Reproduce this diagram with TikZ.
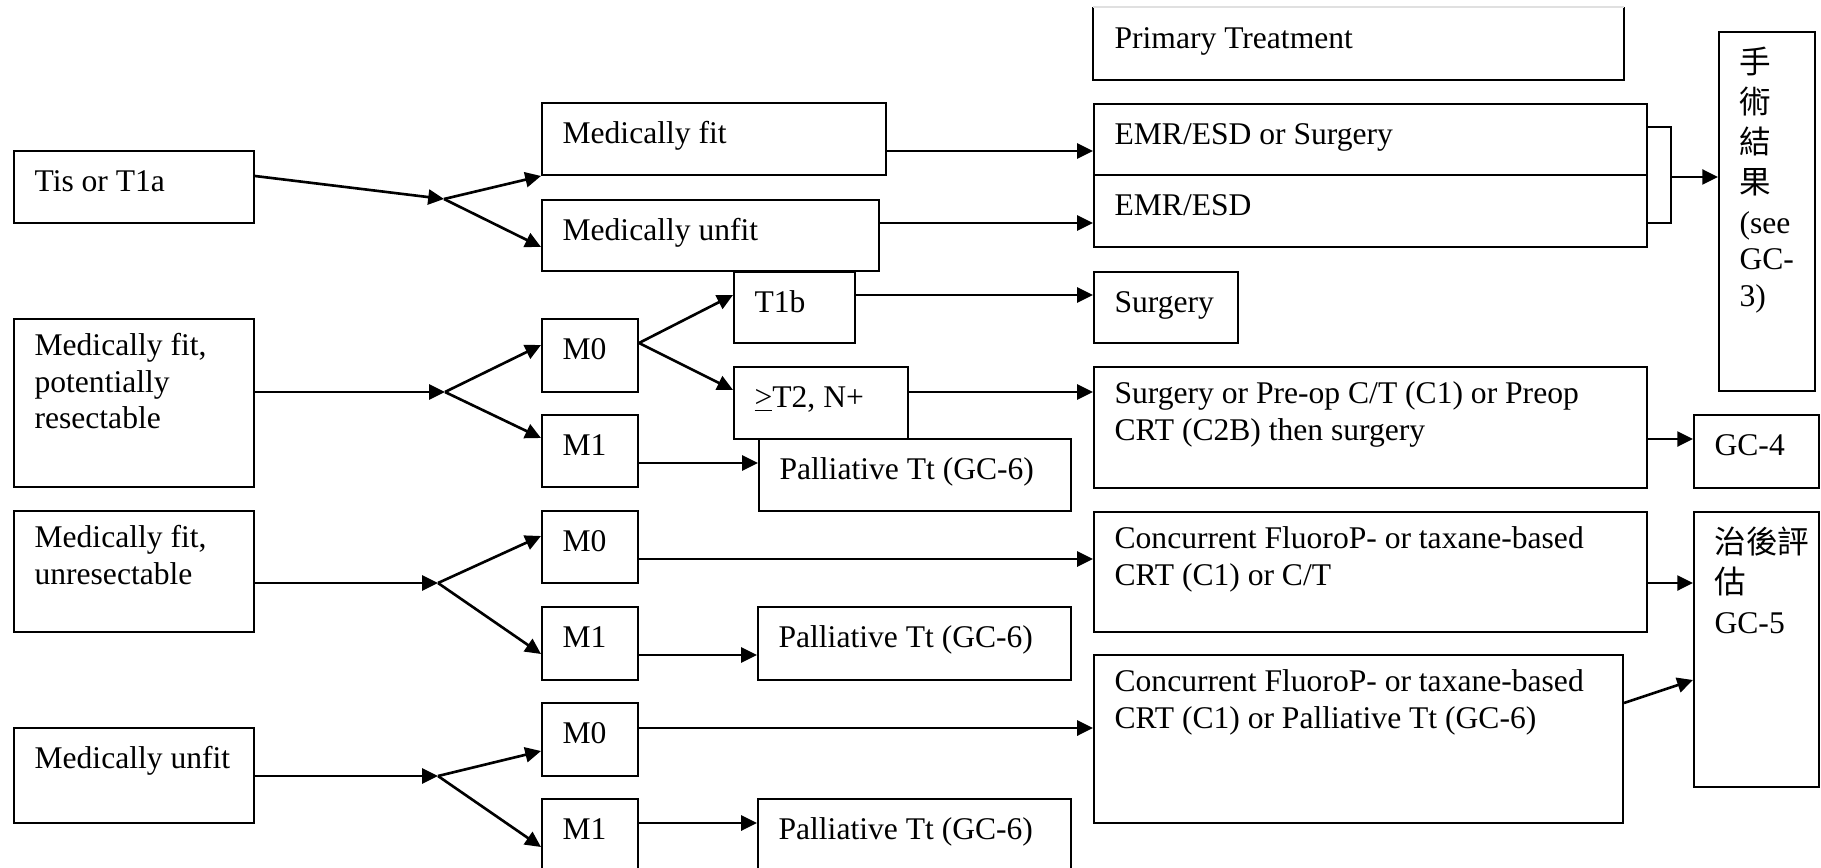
\documentclass[tikz,border=0pt]{standalone}
\usepackage{fontspec}
\setmainfont{Liberation Serif}
\newfontfamily\cjk{Noto Sans CJK TC}
\usetikzlibrary{arrows.meta,fit}

\tikzset{boite/.style  = {draw, line width=0.75pt, inner sep=0pt},
         texte/.style  = {anchor=north west, inner sep=0pt, xshift=8pt, yshift=-5.7pt,
                          align=left, font=\fontsize{12}{13.9}\selectfont,
                          execute at begin node=\strut},
         fleche/.style = {line width=1pt, -{Triangle[length=6pt,width=5.7pt]}},
         trait/.style  = {line width=0.75pt}
        }

\begin{document}
\begin{tikzpicture}[x=0.38pt,y=-0.38pt]
\useasboundingbox (0,0) rectangle (1821,868);
\clip (0,0) rectangle (1821,868);

\node[boite, draw=none, fit={(1094,8) (1623,79)}, label={[texte]north west:Primary Treatment}] (prim) {};
\draw[trait] (prim.north west) -- (prim.south west) -- (prim.south east) -- (prim.north east);
\draw[trait, black!12] (prim.north west) -- (prim.north east);

\node[boite, fit={(14,151) (254,223)}, label={[texte]north west:Tis or T1a}] (tis) {};
\node[boite, fit={(542,103) (886,175)}, label={[texte]north west:Medically fit}] (mfit) {};
\node[boite, fit={(542,200) (879,271)}, label={[texte]north west:Medically unfit}] (munfit) {};
\node[boite, fit={(1094,104) (1647,175)}, label={[texte]north west:EMR/ESD or Surgery}] (emrs) {};
\node[boite, fit={(1094,175) (1647,247)}, label={[texte]north west:EMR/ESD}] (emr) {};
\node[boite, fit={(1719,32) (1815,391)},
      label={[texte]north west:{{\cjk 手}\\[1.3pt]{\cjk 術}\\[1.3pt]{\cjk 結}\\[1.3pt]{\cjk 果}\\[1.3pt](see\\GC-\\3)}}] (gc3) {};

\node[boite, fit={(14,319) (254,487)}, label={[texte]north west:{Medically fit,\\potentially\\resectable}}] (resec) {};
\node[boite, fit={(542,319) (638,392)}, label={[texte]north west:M0}] (m0a) {};
\node[boite, fit={(542,415) (638,487)}, label={[texte]north west:M1}] (m1a) {};
\node[boite, fit={(734,272) (855,343)}, label={[texte]north west:T1b}] (t1b) {};
\node[boite, fit={(734,367) (908,439)}, label={[texte]north west:\underline{>}T2, N+}] (t2) {};
\node[boite, fit={(759,439) (1071,511)}, label={[texte]north west:Palliative Tt (GC-6)}] (pala) {};
\node[boite, fit={(1094,272) (1238,343)}, label={[texte]north west:Surgery}] (surg) {};
\node[boite, fit={(1094,367) (1647,488)},
      label={[texte]north west:{Surgery or Pre-op C/T (C1) or Preop\\CRT (C2B) then surgery}}] (preop) {};
\node[boite, fit={(1694,415) (1819,488)}, label={[texte]north west:GC-4}] (gc4) {};

\node[boite, fit={(14,511) (254,632)}, label={[texte]north west:{Medically fit,\\unresectable}}] (unres) {};
\node[boite, fit={(542,511) (638,583)}, label={[texte]north west:M0}] (m0b) {};
\node[boite, fit={(542,607) (638,680)}, label={[texte]north west:M1}] (m1b) {};
\node[boite, fit={(758,607) (1071,680)}, label={[texte]north west:Palliative Tt (GC-6)}] (palb) {};
\node[boite, fit={(1094,512) (1647,632)},
      label={[texte]north west:{Concurrent FluoroP- or taxane-based\\CRT (C1) or C/T}}] (crta) {};
\node[boite, fit={(1694,512) (1819,787)},
      label={[texte]north west:{{\cjk 治後評}\\[1.3pt]{\cjk 估}\\[1.3pt]GC-5}}] (gc5) {};

\node[boite, fit={(14,728) (254,823)}, label={[texte]north west:Medically unfit}] (unfit) {};
\node[boite, fit={(542,703) (638,776)}, label={[texte]north west:M0}] (m0c) {};
\node[boite, fit={(542,799) (638,872)}, label={[texte]north west:M1}] (m1c) {};
\node[boite, fit={(758,799) (1071,872)}, label={[texte]north west:Palliative Tt (GC-6)}] (palc) {};
\node[boite, fit={(1094,655) (1623,823)},
      label={[texte]north west:{Concurrent FluoroP- or taxane-based\\CRT (C1) or Palliative Tt (GC-6)}}] (crtb) {};

\coordinate (b1) at (444,199);
\coordinate (b2) at (445,392);
\coordinate (b3) at (438,583);
\coordinate (b4) at (438,776);
\coordinate (brk) at (1671,177);

\draw[fleche] (tis.east |- 0,176) -- (b1);
\draw[fleche] (b1) -- (mfit.south west);
\draw[fleche] (b1) -- (munfit.west |- 0,247);
\draw[fleche] (mfit.east |- 0,151) -- (emrs.west |- 0,151);
\draw[fleche] (munfit.east |- 0,223) -- (emr.west |- 0,223);
\draw[trait] (emrs.east |- 0,127) -| (brk) |- (emr.east |- 0,223);
\draw[fleche] (brk) -- (gc3.west |- brk);

\draw[fleche] (resec.east |- b2) -- (b2);
\draw[fleche] (b2) -- (m0a.west |- 0,345);
\draw[fleche] (b2) -- (m1a.west |- 0,438);
\draw[fleche] (m0a.east |- 0,343) -- (t1b.west |- 0,295);
\draw[fleche] (m0a.east |- 0,343) -- (t2.west |- 0,390);
\draw[fleche] (t1b.east |- 0,295) -- (surg.west |- 0,295);
\draw[fleche] (t2.east |- 0,392) -- (preop.west |- 0,392);
\draw[fleche] (m1a.east |- 0,463) -- (pala.west |- 0,463);
\draw[fleche] (preop.east |- 0,439) -- (gc4.west |- 0,439);

\draw[fleche] (unres.east |- b3) -- (b3);
\draw[fleche] (b3) -- (m0b.west |- 0,536);
\draw[fleche] (b3) -- (m1b.west |- 0,654);
\draw[fleche] (m0b.east |- 0,559) -- (crta.west |- 0,559);
\draw[fleche] (m1b.east |- 0,655) -- (palb.west |- 0,655);
\draw[fleche] (crta.east |- 0,583) -- (gc5.west |- 0,583);

\draw[fleche] (unfit.east |- b4) -- (b4);
\draw[fleche] (b4) -- (m0c.west |- 0,751);
\draw[fleche] (b4) -- (m1c.west |- 0,847);
\draw[fleche] (m0c.east |- 0,728) -- (crtb.west |- 0,728);
\draw[fleche] (m1c.east |- 0,823) -- (palc.west |- 0,823);
\draw[fleche] (crtb.east |- 0,703) -- (gc5.west |- 0,680);
\end{tikzpicture}
\end{document}
